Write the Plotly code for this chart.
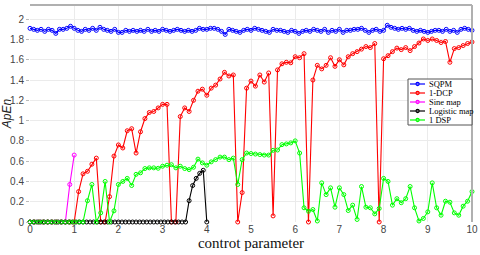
import numpy as np
import plotly.graph_objects as go

# ---------------- data ----------------
sqpm_vals = [1.91,1.90,1.89,1.90,1.88,1.90,1.89,1.86,1.90,1.90,1.91,1.93,1.91,1.89,1.88,1.90,1.89,1.91,1.89,1.92,1.90,1.89,1.88,1.90,1.87,1.87,1.89,1.88,1.89,1.88,1.89,1.88,1.90,1.88,1.89,1.88,1.90,1.89,1.88,1.89,1.90,
             1.89,1.88,1.89,1.88,1.89,1.91,1.90,1.90,1.91,1.91,1.90,1.88,1.85,1.90,1.89,1.88,1.87,1.89,1.90,1.89,1.91,1.90,1.89,1.88,1.87,1.90,1.89,1.89,1.88,1.87,1.89,1.88,1.86,1.88,1.89,1.88,1.90,1.89,1.88,1.90,1.87,1.89,
             1.88,1.90,1.87,1.89,1.89,1.90,1.90,1.91,1.89,1.87,1.89,1.90,1.88,1.89,1.94,1.92,1.91,1.90,1.91,1.90,1.91,1.89,1.88,1.89,1.88,1.87,1.88,1.89,1.89,1.88,1.90,1.88,1.89,1.87,1.90,1.91,1.90,1.89]
sqpm_x = np.linspace(0, 10, len(sqpm_vals))

dcp_vals = [0,0,0,0,0,0,0,0,0,0,
            0,0.30,0.475,0.50,0.57,0.63,0,0,0.25,0.65,
            0.76,0.73,0.90,0.92,0.68,0.89,1.02,1.08,1.09,1.125,
            1.16,1.16,0,0,1.04,1.125,1.09,1.20,1.29,1.31,
            1.25,1.32,1.35,1.41,1.476,1.44,1.45,0,0.29,1.32,
            1.39,1.34,1.45,1.38,1.47,0.06,1.50,1.56,1.575,1.57,
            1.63,1.62,1.66,0,1.40,1.545,1.51,1.545,1.62,1.535,
            1.60,1.55,1.63,1.66,1.68,1.705,1.73,1.72,1.76,0,
            1.61,1.64,1.68,1.715,1.70,1.72,1.69,1.73,1.765,1.805,
            1.79,1.805,1.79,1.77,1.78,1.575,1.71,1.72,1.74,1.76,
            1.775]
dcp_x = np.linspace(0, 10, len(dcp_vals))

sine_vals = [0,0,0,0,0,0,0,0,0,0.37,0.66]
sine_x = np.linspace(0, 1, len(sine_vals))

logistic_vals = [0]*45 + [0.21,0.36,0.43,0.48,0.51,0]
logistic_x = np.linspace(0, 4, len(logistic_vals))

dsp_vals = [0,0,0,0,0,0,0,0,0,0,
            0,0,0,0.21,0.37,0,0.09,0.40,0,0.11,
            0.37,0.40,0.43,0.36,0.47,0.485,0.527,0.534,0.534,0.53,
            0.55,0.56,0.565,0.534,0.55,0.527,0.517,0.54,0.62,0.583,
            0.56,0.593,0.615,0.64,0.64,0.615,0.63,0.37,0.615,0.68,
            0.675,0.67,0.665,0.66,0.66,0.707,0.71,0.763,0.77,0.78,
            0.80,0.68,0.14,0.106,0.123,0.01,0.386,0.27,0.337,0.146,
            0.337,0.27,0.113,0.166,0.025,0.35,0.146,0.14,0.08,0.133,
            0.43,0.40,0.166,0.23,0.19,0.23,0.35,0.14,0.01,0.035,
            0.10,0.386,0.14,0.067,0.205,0.195,0.09,0.067,0.156,0.205,
            0.30]
dsp_x = np.linspace(0, 10, len(dsp_vals))

series_names = ["SQPM", "1-DCP", "Sine map", "Logistic map", "1 DSP"]
series_colors = ["#0000ff", "#ff0000", "#ff00ff", "#000000", "#00ff00"]
series_x = [sqpm_x, dcp_x, sine_x, logistic_x, dsp_x]
series_y = [sqpm_vals, dcp_vals, sine_vals, logistic_vals, dsp_vals]

x_ticks = list(range(0, 11))
y_ticks = [0, 0.2, 0.4, 0.6, 0.8, 1, 1.2, 1.4, 1.6, 1.8, 2]
y_tick_text = ["0", "0.2", "0.4", "0.6", "0.8", "1", "1.2", "1.4", "1.6", "1.8", "2"]

# ---------------- figure ----------------
W, H = 480, 255
ML, MR, MT, MB = 30, 8, 5, 33
PW, PH = W - ML - MR, H - MT - MB

def px2paper(px, py):
    return (px - ML) / PW, (H - MB - py) / PH

fig = go.Figure()
for name, col, xs, ys in zip(series_names, series_colors, series_x, series_y):
    fig.add_trace(go.Scatter(
        x=xs, y=ys, mode="lines+markers", name=name,
        line=dict(color=col, width=1.1),
        marker=dict(symbol="circle-open", size=4, color=col, line=dict(width=1.0, color=col)),
        cliponaxis=False, showlegend=False))

shapes = []
# top and right frame lines
shapes.append(dict(type="line", xref="paper", yref="paper", x0=0, x1=1, y0=1, y1=1,
                   line=dict(color="#b0b0b0", width=2)))
shapes.append(dict(type="line", xref="paper", yref="paper", x0=1, x1=1, y0=0, y1=1,
                   line=dict(color="#b0b0b0", width=2)))

# custom legend
lx0, ly0, lx1, ly1 = 408, 79, 472, 125
a0, b1 = px2paper(lx0, ly0)
a1, b0 = px2paper(lx1, ly1)
shapes.append(dict(type="rect", xref="paper", yref="paper", x0=a0, x1=a1, y0=b0, y1=b1,
                   fillcolor="white", line=dict(color="#555555", width=1), layer="above"))
annotations = []
row_h = 9.0
for i, (name, col) in enumerate(zip(series_names, series_colors)):
    cy = ly0 + 5 + row_h * i
    p0x, py_ = px2paper(410, cy)
    p1x, _ = px2paper(425, cy)
    shapes.append(dict(type="line", xref="paper", yref="paper", x0=p0x, x1=p1x, y0=py_, y1=py_,
                       line=dict(color=col, width=1.2), layer="above"))
    cx0, cy0 = px2paper(416, cy + 1.6)
    cx1, cy1 = px2paper(419.2, cy - 1.6)
    shapes.append(dict(type="circle", xref="paper", yref="paper", x0=cx0, x1=cx1, y0=cy0, y1=cy1,
                       line=dict(color=col, width=1.1), layer="above"))
    tx, ty = px2paper(427, cy)
    annotations.append(dict(xref="paper", yref="paper", x=tx, y=ty, text=name, showarrow=False,
                            xanchor="left", yanchor="middle",
                            font=dict(family="Liberation Serif", size=8.5, color="#000")))

fig.update_layout(
    width=W, height=H,
    margin=dict(l=ML, r=MR, t=MT, b=MB, autoexpand=False),
    plot_bgcolor="white", paper_bgcolor="white",
    showlegend=False,
    shapes=shapes, annotations=annotations,
    xaxis=dict(range=[0, 10], tickvals=x_ticks, ticktext=[str(v) for v in x_ticks],
               showgrid=True, gridcolor="#ebebeb", gridwidth=1, zeroline=False,
               showline=False, ticks="", ticklen=3, automargin=False,
               tickfont=dict(family="Liberation Sans", size=10, color="#444"),
               title=dict(text="controt parameter", standoff=2,
                          font=dict(family="Liberation Serif", size=15, color="#111"))),
    yaxis=dict(range=[0, 2.14], tickvals=y_ticks, ticktext=y_tick_text,
               showgrid=True, gridcolor="#ebebeb", gridwidth=1, zeroline=False,
               showline=False, ticks="outside", ticklen=3, tickcolor="#bbbbbb",
               automargin=False,
               tickfont=dict(family="Liberation Sans", size=10, color="#444"),
               title=dict(text="<i>ApEn</i>", standoff=2,
                          font=dict(family="Liberation Sans", size=12, color="#222"))),
)

fig.write_html("out.html", config={"displayModeBar": False},
               post_script="document.body.style.margin='0';document.body.style.padding='0';")
